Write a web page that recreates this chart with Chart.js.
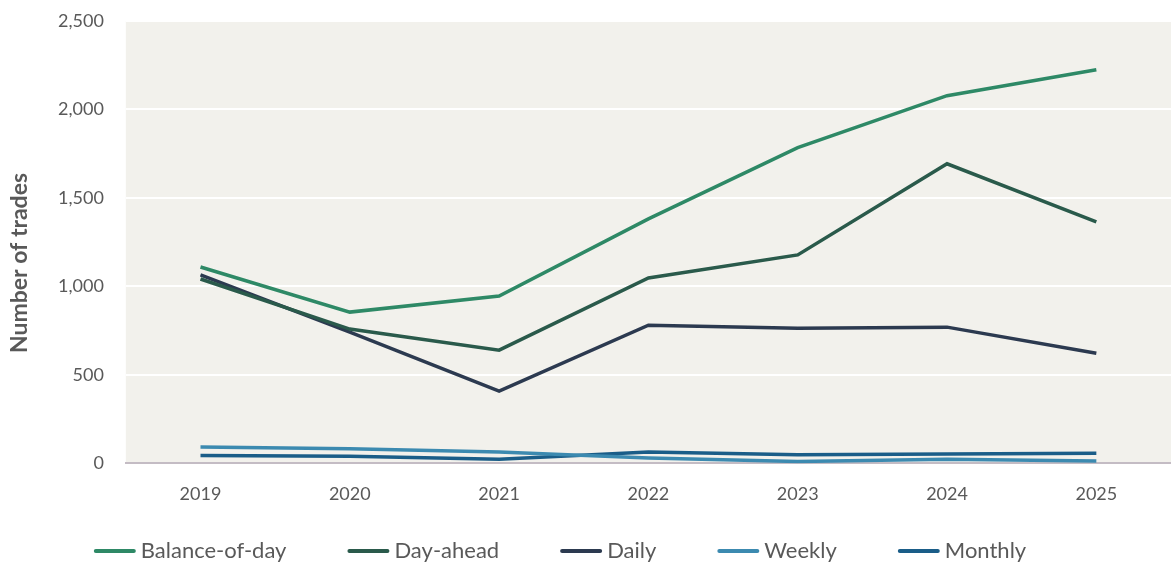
<!DOCTYPE html>
<html>
<head>
<meta charset="utf-8">
<script src="https://cdn.jsdelivr.net/npm/chart.js@4"></script>
<style>
  html, body { margin: 0; padding: 0; background: #ffffff; }
  #wrap { width: 1171px; height: 565px; }
</style>
</head>
<body>
<div id="wrap"><canvas id="chart"></canvas></div>
<script>
const years = ['2019', '2020', '2021', '2022', '2023', '2024', '2025'];
const balanceOfDay = [1110, 855, 946, 1382, 1784, 2078, 2225];
const dayAhead = [1042, 759, 640, 1048, 1178, 1693, 1365];
const daily = [1065, 742, 408, 781, 764, 770, 623];
const weekly = [92, 83, 64, 30, 11, 23, 13];
const monthly = [45, 41, 24, 64, 49, 53, 58];

const seriesNames = ['Balance-of-day', 'Day-ahead', 'Daily', 'Weekly', 'Monthly'];
const seriesColors = ['#2e8966', '#2a5a4b', '#2c3a50', '#3c8ab0', '#1a5d88'];
const yTitle = 'Number of trades';

const textColor = '#595959';
const font = 'Lato, "Open Sans", sans-serif';

// fill the plot area with the beige background
const plotBg = {
    id: 'plotBg',
    beforeDraw(chart) {
        const { ctx, chartArea: a } = chart;
        ctx.save();
        ctx.fillStyle = '#f2f1ec';
        ctx.fillRect(a.left, a.top, a.right - a.left, a.bottom - a.top);
        ctx.restore();
    }
};

// legend and y title drawn by hand: the built-in legend reserves too much height for the wide gaps
const extras = {
    id: 'extras',
    afterDraw(chart) {
        const ctx = chart.ctx;
        ctx.save();
        // y axis title
        ctx.translate(20, 263);
        ctx.rotate(-Math.PI / 2);
        ctx.font = 'bold 23px ' + font;
        ctx.fillStyle = textColor;
        ctx.textAlign = 'center';
        ctx.textBaseline = 'middle';
        ctx.fillText(yTitle, 0, 0);
        ctx.restore();

        const boxW = 42, gapText = 5, gapItem = 61, y = 551;
        ctx.save();
        ctx.font = '22px ' + font;
        ctx.textBaseline = 'middle';
        const items = chart.data.datasets.map(d => ({
            text: d.label, color: d.borderColor, w: ctx.measureText(d.label).width
        }));
        const total = items.reduce((s, it) => s + boxW + gapText + it.w, 0) + gapItem * (items.length - 1);
        let x = 560 - total / 2;
        items.forEach(it => {
            ctx.strokeStyle = it.color;
            ctx.lineWidth = 4;
            ctx.lineCap = 'round';
            ctx.beginPath();
            ctx.moveTo(x + 2, y);
            ctx.lineTo(x + boxW - 2, y);
            ctx.stroke();
            ctx.fillStyle = textColor;
            ctx.fillText(it.text, x + boxW + gapText, y);
            x += boxW + gapText + it.w + gapItem;
        });
        ctx.restore();
    }
};

const values = [balanceOfDay, dayAhead, daily, weekly, monthly];

new Chart(document.getElementById('chart'), {
    type: 'line',
    data: {
        labels: years,
        datasets: values.map((v, i) => ({
            label: seriesNames[i],
            data: v,
            borderColor: seriesColors[i],
            backgroundColor: seriesColors[i],
            borderWidth: 3.5,
            pointRadius: 0,
            tension: 0
        }))
    },
    options: {
        responsive: true,
        maintainAspectRatio: false,
        animation: false,
        layout: { padding: { top: 0, right: 0, left: 36, bottom: 40 } },
        plugins: {
            legend: { display: false },
            tooltip: { enabled: false }
        },
        scales: {
            x: {
                offset: true,
                grid: { display: false, drawTicks: false },
                border: { color: '#c4bcc4', width: 2 },
                ticks: { color: textColor, font: { family: font, size: 18 }, padding: 20 }
            },
            y: {
                min: 0,
                max: 2500,
                grid: { color: '#ffffff', lineWidth: 2, drawTicks: false },
                border: { display: false },
                ticks: {
                    stepSize: 500,
                    color: textColor,
                    font: { family: font, size: 18 },
                    padding: 22,
                    callback: v => v.toLocaleString('en-US')
                },
                // tick padding also pads the top; keep only the label half height there
                afterFit(scale) {
                    scale.paddingTop = 21;
                }
            }
        }
    },
    plugins: [plotBg, extras]
});
</script>
</body>
</html>
